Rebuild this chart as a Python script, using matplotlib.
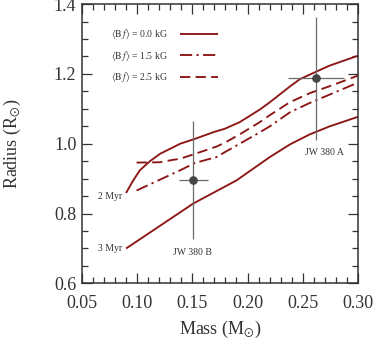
import matplotlib
matplotlib.use("Agg")
import matplotlib.pyplot as plt
from matplotlib.ticker import MultipleLocator

# ---------------- data ----------------
mass_0kG_2Myr = [0.090, 0.0965, 0.1025, 0.1116, 0.1207, 0.1327, 0.139, 0.1524, 0.169, 0.1795,
                 0.193, 0.2112, 0.2203, 0.2384, 0.2475, 0.2626, 0.2746, 0.300]
rad_0kG_2Myr = [0.859, 0.895, 0.924, 0.950, 0.971, 0.990, 1.000, 1.014, 1.033, 1.043,
                1.062, 1.098, 1.119, 1.164, 1.185, 1.207, 1.224, 1.252]

mass_25kG = [0.0995, 0.1207, 0.1327, 0.139, 0.1524, 0.172, 0.1795, 0.193, 0.2112, 0.2203,
             0.2384, 0.2565, 0.2746, 0.300]
rad_25kG = [0.946, 0.947, 0.954, 0.957, 0.971, 0.992, 1.003, 1.027, 1.062, 1.082,
            1.119, 1.145, 1.165, 1.195]

mass_15kG = [0.0995, 0.139, 0.1524, 0.172, 0.1795, 0.193, 0.2112, 0.2203, 0.2384, 0.2565,
             0.2746, 0.300]
rad_15kG = [0.866, 0.924, 0.945, 0.962, 0.976, 1.000, 1.033, 1.050, 1.090, 1.117,
            1.141, 1.175]

mass_0kG_3Myr = [0.090, 0.1146, 0.151, 0.190, 0.2203, 0.2384, 0.2565, 0.2746, 0.300]
rad_0kG_3Myr = [0.700, 0.752, 0.829, 0.895, 0.962, 0.998, 1.027, 1.050, 1.077]

star_names = ["JW 380 A", "JW 380 B"]
star_mass = [0.262, 0.151]
star_mass_err = [0.025, 0.013]
star_rad = [1.187, 0.896]
star_rad_err = [0.175, 0.170]

legend_labels = [r'$\langle\mathrm{B}\,f\rangle$ = 0.0 kG',
                 r'$\langle\mathrm{B}\,f\rangle$ = 1.5 kG',
                 r'$\langle\mathrm{B}\,f\rangle$ = 2.5 kG']
age_labels = ["2 Myr", "3 Myr"]

# ---------------- style ----------------
plt.rcParams['font.family'] = ['Liberation Serif', 'DejaVu Serif']
plt.rcParams['mathtext.fontset'] = 'stix'

red = '#8c1515'
lw = 1.35
txtc = '#333333'

fig = plt.figure(figsize=(3.74, 3.39), dpi=100)
ax = fig.add_axes([0.219, 0.164, 0.738, 0.824])

l0, = ax.plot(mass_0kG_2Myr, rad_0kG_2Myr, color=red, lw=lw, solid_capstyle='butt')
ax.plot(mass_0kG_3Myr, rad_0kG_3Myr, color=red, lw=lw, solid_capstyle='butt')
l15, = ax.plot(mass_15kG, rad_15kG, color=red, lw=lw, dashes=(6.5, 2.3, 1.2, 2.3))
l25, = ax.plot(mass_25kG, rad_25kG, color=red, lw=lw, dashes=(5.5, 2.8))

ax.errorbar(star_mass, star_rad, xerr=star_mass_err, yerr=star_rad_err, fmt='o',
            color='#454545', ecolor='#6a6a6a', elinewidth=0.9, capsize=0,
            markersize=5.2, zorder=5)

fs_small = 7.0
ax.text(0.0862, 0.850, age_labels[0], ha='right', va='center', fontsize=fs_small, color=txtc)
ax.text(0.0862, 0.700, age_labels[1], ha='right', va='center', fontsize=fs_small, color=txtc)
ax.text(star_mass[1] - 0.0008, 0.689, star_names[1], ha='center', va='center', fontsize=fs_small, color=txtc)
ax.text(star_mass[0] + 0.0081, 0.974, star_names[0], ha='center', va='center', fontsize=fs_small, color=txtc)

leg = ax.legend([l0, l15, l25], legend_labels, loc='upper left',
                bbox_to_anchor=(0.107, 0.915), frameon=False, markerfirst=False,
                fontsize=fs_small, handlelength=3.9, handletextpad=1.2, labelspacing=0.85,
                borderaxespad=0, borderpad=0)
for t in leg.get_texts():
    t.set_color(txtc)

ax.set_xlim(0.05, 0.30)
ax.set_ylim(0.6, 1.4)
ax.xaxis.set_major_locator(MultipleLocator(0.05))
ax.xaxis.set_minor_locator(MultipleLocator(0.01))
ax.yaxis.set_major_locator(MultipleLocator(0.2))
ax.yaxis.set_minor_locator(MultipleLocator(0.05))
ax.xaxis.set_major_formatter(matplotlib.ticker.FormatStrFormatter('%.2f'))
ax.yaxis.set_major_formatter(matplotlib.ticker.FormatStrFormatter('%.1f'))

ax.tick_params(which='both', direction='in', top=True, right=True, color=txtc,
               labelsize=13, labelcolor=txtc, width=0.9)
ax.tick_params(which='major', length=7.5)
ax.tick_params(which='minor', length=4)
ax.tick_params(axis='x', which='major', pad=8)
ax.tick_params(axis='y', which='major', pad=4)
for s in ax.spines.values():
    s.set_linewidth(1.1)
    s.set_color(txtc)

ax.set_xlabel(r'Mass (M$_{\odot}$)', fontsize=13, color=txtc, labelpad=5)
ax.set_ylabel(r'Radius (R$_{\odot}$)', fontsize=13, color=txtc, labelpad=22)

fig.savefig('out.png', dpi=100)
